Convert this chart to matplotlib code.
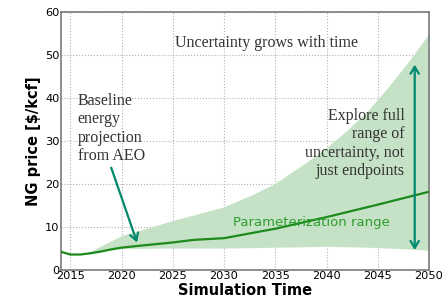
import matplotlib.pyplot as plt
from matplotlib.patches import FancyArrowPatch

# baseline AEO projection
base_years = [2014, 2015, 2016, 2017, 2018, 2019, 2020, 2022, 2025, 2027, 2030,
              2035, 2040, 2045, 2050]
base_price = [4.3, 3.6, 3.6, 3.9, 4.3, 4.8, 5.2, 5.7, 6.4, 7.0, 7.4,
              9.6, 12.3, 15.2, 18.2]

# parameterization range envelope
band_years = [2014, 2015, 2016, 2017, 2018, 2020, 2025, 2030, 2033, 2035, 2038,
              2040, 2042, 2044, 2046, 2048, 2050]
band_upper = [4.3, 3.6, 3.7, 4.4, 5.6, 8.0, 11.5, 14.7, 17.8, 20.2, 25.0,
              28.5, 32.5, 37.0, 42.5, 48.5, 55.0]
band_lower = [4.3, 3.6, 3.6, 3.9, 4.3, 5.0, 5.1, 5.1, 5.2, 5.3, 5.4,
              5.5, 5.4, 5.3, 5.1, 4.9, 4.6]

x_ticks = [2015, 2020, 2025, 2030, 2035, 2040, 2045, 2050]
y_ticks = [0, 10, 20, 30, 40, 50, 60]

C = {
    "fill": "#c6e2c6",
    "line": "#1b8a1b",
    "arrow": "#00896e",
    "label": "#2e9e2e",
    "ink": "#333333",
    "spine": "#7a7a7a",
}
SERIF = ["Liberation Serif", "DejaVu Serif"]

fig = plt.figure(figsize=(4.46, 2.99), dpi=100)
ax = fig.add_axes([0.137, 0.097, 0.825, 0.863])

ax.fill_between(band_years, band_lower, band_upper, color=C["fill"], lw=0, zorder=1)
ax.plot(base_years, base_price, color=C["line"], lw=1.6, zorder=3)

ax.set_xlim(2014.1, 2050)
ax.set_ylim(0, 60)
ax.set_xticks(x_ticks)
ax.set_yticks(y_ticks)
ax.tick_params(labelsize=8.2, length=0, pad=1)
ax.grid(True, color="#b0b0b0", ls=":", lw=0.8, zorder=0)
ax.set_axisbelow(True)
for s in ax.spines.values():
    s.set_color(C["spine"])
    s.set_linewidth(1.2)

ax.set_xlabel("Simulation Time", fontsize=10.5, fontweight="bold")
ax.xaxis.set_label_coords(0.5, -0.05)
ax.set_ylabel("NG price [$/kcf]", fontsize=10.5, fontweight="bold", labelpad=3)

ax.text(2034.1, 52.8, "Uncertainty grows with time", family=SERIF, fontsize=11.5,
        color=C["ink"], ha="center", va="center", zorder=4)
ax.text(2015.7, 41.2, "Baseline\nenergy\nprojection\nfrom AEO", family=SERIF,
        fontsize=11.5, color=C["ink"], ha="left", va="top", linespacing=1.2, zorder=4)
ax.text(2047.6, 37.7, "Explore full\nrange of\nuncertainty, not\njust endpoints",
        family=SERIF, fontsize=11.5, color=C["ink"], ha="right", va="top",
        linespacing=1.2, zorder=4)
ax.text(2038.5, 11.0, "Parameterization range", fontsize=9.5, color=C["label"],
        ha="center", va="center", zorder=4)

ax.add_patch(FancyArrowPatch((2018.9, 24.4), (2021.6, 5.8), arrowstyle="->,head_length=5,head_width=3",
                             mutation_scale=1, lw=1.6, color=C["arrow"], zorder=5))
ax.add_patch(FancyArrowPatch((2048.6, 4.0), (2048.6, 48.4), arrowstyle="<->,head_length=5,head_width=3",
                             mutation_scale=1, lw=1.6, color=C["arrow"], zorder=5))

fig.savefig("out.png", dpi=100)
